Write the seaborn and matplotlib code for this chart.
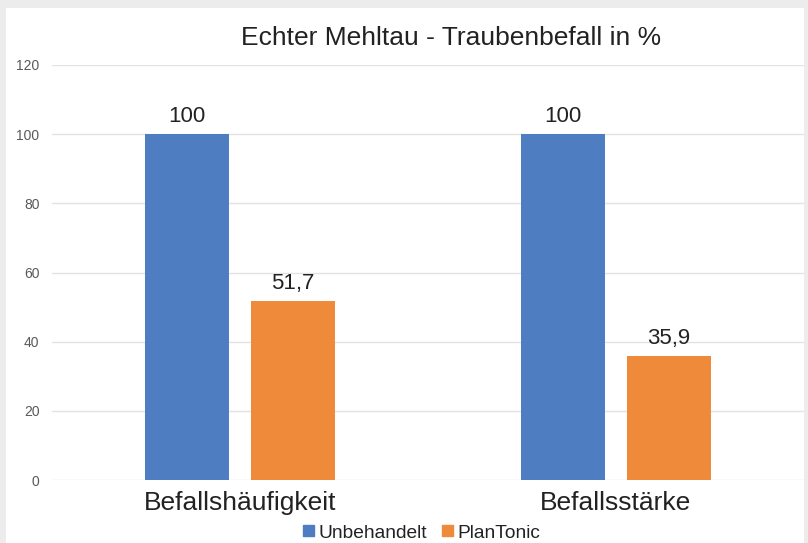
import numpy as np
import pandas as pd
import matplotlib
matplotlib.use("Agg")
import matplotlib.pyplot as plt
import seaborn as sns
from matplotlib.patches import Rectangle

categories = ['Befallshäufigkeit', 'Befallsstärke']
series = ['Unbehandelt', 'PlanTonic']
unbehandelt = [100, 100]
plantonic = [51.7, 35.9]
bar_labels = [['100', '100'], ['51,7', '35,9']]
colors = ['#4f7dc2', '#f08a3b']

df = pd.DataFrame({
    'Kategorie': categories * 2,
    'Gruppe': [series[0]] * 2 + [series[1]] * 2,
    'Wert': unbehandelt + plantonic,
})

sns.set_style('white')
plt.rcParams['font.family'] = ['Liberation Sans', 'DejaVu Sans']

fig = plt.figure(figsize=(8.08, 5.43), dpi=100)
fig.patch.set_facecolor('#ececec')
# white chart area inside the grey frame
fig.add_artist(Rectangle((6 / 808, 0), 798 / 808, 535 / 543,
                         transform=fig.transFigure, facecolor='white',
                         edgecolor='none', zorder=0))
ax = fig.add_axes([52 / 808, 63 / 543, 752 / 808, 415 / 543])
ax.set_facecolor('none')

sns.barplot(data=df, x='Kategorie', y='Wert', hue='Gruppe', order=categories,
            hue_order=series, palette=colors, width=0.564, gap=0.208,
            saturation=1, linewidth=0, ax=ax, legend=False)

for cont, labs in zip(ax.containers, bar_labels):
    ax.bar_label(cont, labels=labs, padding=5, fontsize=16, color='#222222')

ax.set_xlim(-0.5, 1.5)
ax.set_ylim(0, 120)
ax.set_yticks(range(0, 121, 20))
ax.yaxis.grid(True, color='#e3e3e3', linewidth=1)
ax.set_axisbelow(True)
for s in ax.spines.values():
    s.set_visible(False)
ax.tick_params(axis='y', labelsize=10, colors='#595959', length=0, pad=9)
ax.tick_params(axis='x', labelsize=19, colors='#222222', length=0, pad=8)
ax.set_xlabel('')
ax.set_ylabel('')

fig.text(451 / 808, 1 - 38 / 543, 'Echter Mehltau - Traubenbefall in %',
         ha='center', va='center', fontsize=19, color='#222222')

handles = [Rectangle((0, 0), 1, 1, color=c) for c in colors]
fig.legend(handles, series, loc='center', bbox_to_anchor=(422 / 808, 1 - 533 / 543),
           ncol=2, frameon=False, fontsize=13.8, handlelength=0.55, handleheight=0.55,
           handletextpad=0.25, columnspacing=0.8, labelcolor='#222222')

fig.savefig('out.png', dpi=100, facecolor=fig.get_facecolor())
